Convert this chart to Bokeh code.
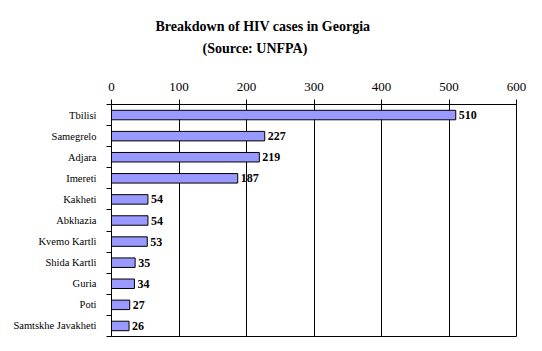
from bokeh.plotting import figure
from bokeh.models import FixedTicker, Title, Range1d
from bokeh.core.properties import value
from bokeh.embed import file_html
from bokeh.resources import INLINE

regions = ["Tbilisi", "Samegrelo", "Adjara", "Imereti", "Kakheti", "Abkhazia",
           "Kvemo Kartli", "Shida Kartli", "Guria", "Poti", "Samtskhe Javakheti"]
cases = [510, 227, 219, 187, 54, 54, 53, 35, 34, 27, 26]
x_ticks = [0, 100, 200, 300, 400, 500, 600]
title_lines = ["Breakdown of HIV cases in Georgia", "(Source: UNFPA)"]

FONT = "'Liberation Serif'"
n = len(regions)
ys = [n - i - 0.5 for i in range(n)]
bounds = [float(i) for i in range(n + 1)]

p = figure(width=542, height=351, output_backend="svg", toolbar_location=None,
           x_range=Range1d(0, 600), y_range=Range1d(0, n),
           x_axis_location="above",
           min_border_left=111, min_border_right=26,
           min_border_top=104, min_border_bottom=15)
p.title = None
p.background_fill_color = "white"
p.border_fill_color = "white"
p.outline_line_color = "black"
p.outline_line_width = 1

p.hbar(y=ys, left=0, right=cases, height=0.45,
       fill_color="#9999FF", line_color="black", line_width=1)
p.text(x=cases, y=ys, text=[str(c) for c in cases], x_offset=3,
       text_baseline="middle", text_align="left",
       text_font=value("Liberation Serif"), text_font_style="bold", text_font_size="12px",
       text_color="black")

# x axis (top)
xa = p.xaxis[0]
xa.ticker = FixedTicker(ticks=x_ticks)
xa.major_tick_in = 0
xa.major_tick_out = 5
xa.minor_tick_line_color = None
xa.major_label_standoff = 9
xa.major_label_text_font = FONT
xa.major_label_text_font_size = "13px"
xa.major_label_text_color = "black"
xa.axis_line_color = "black"
xa.major_tick_line_color = "black"

# y axis (left)
ya = p.yaxis[0]
ya.ticker = FixedTicker(ticks=ys, minor_ticks=bounds)
ya.major_label_overrides = {y: r for y, r in zip(ys, regions)}
ya.major_tick_line_color = None
ya.minor_tick_line_color = "black"
ya.minor_tick_in = 0
ya.minor_tick_out = 5
ya.major_label_standoff = 9
ya.major_label_text_font = FONT
ya.major_label_text_font_size = "10.5px"
ya.major_label_text_color = "black"
ya.axis_line_color = "black"

p.xgrid.ticker = FixedTicker(ticks=x_ticks)
p.xgrid.grid_line_color = "black"
p.xgrid.grid_line_alpha = 1.0
p.ygrid.grid_line_color = None

spacer = Title(text=" ", standoff=10, text_font_size="2px")
sub = Title(text=title_lines[1], align="left", offset=91, standoff=15,
            vertical_align="top",
            text_font=FONT, text_font_style="bold", text_font_size="14px",
            text_color="black")
main = Title(text=title_lines[0], align="left", offset=44, standoff=0,
             vertical_align="bottom",
             text_font=FONT, text_font_style="bold", text_font_size="14px",
             text_color="black")
p.add_layout(spacer, "above")
p.add_layout(sub, "above")
p.add_layout(main, "above")

open("out.html", "w").write(file_html(p, INLINE))
